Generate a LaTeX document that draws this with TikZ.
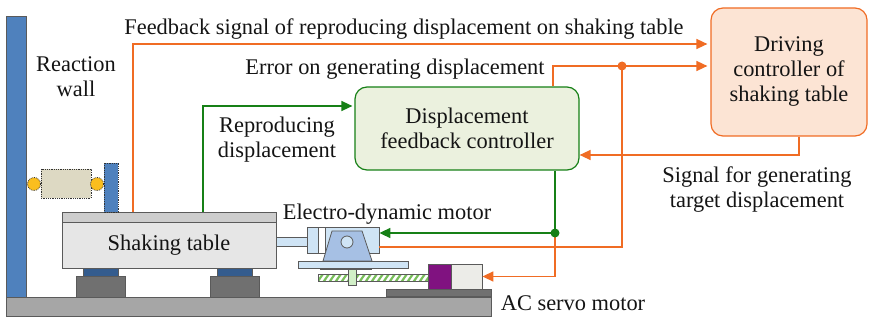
\documentclass[tikz,border=0pt]{standalone}
\usepackage{fontspec}
\setmainfont{Liberation Serif}
\newfontfamily\labelfont{Liberation Serif}
\usepackage{tikz}
\usetikzlibrary{arrows,arrows.meta,shapes}

\definecolor{sigorange}{RGB}{240,108,36}
\definecolor{siggreen}{RGB}{22,128,22}
\definecolor{greenfill}{RGB}{235,241,222}
\definecolor{orangefill}{RGB}{252,228,212}
\definecolor{wallblue}{RGB}{79,129,189}
\definecolor{footblue}{RGB}{52,92,142}
\definecolor{partgray}{RGB}{90,90,90}
\definecolor{tablegray}{RGB}{230,230,230}
\definecolor{topgray}{RGB}{205,205,205}
\definecolor{groundgray}{RGB}{166,166,166}
\definecolor{blockgray}{RGB}{112,112,112}
\definecolor{beige}{RGB}{221,217,195}
\definecolor{springyellow}{RGB}{250,190,30}
\definecolor{lightblue}{RGB}{207,228,245}
\definecolor{trapblue}{RGB}{166,192,228}
\definecolor{screwgreen}{RGB}{120,190,90}
\definecolor{nutgreen}{RGB}{210,240,200}
\definecolor{servogray}{RGB}{236,236,232}
\definecolor{servopurple}{RGB}{128,18,128}

\begin{document}
\begin{tikzpicture}[x=1pt,y=-1pt,>={Triangle[length=11pt,width=10pt]},semithick]
  \tikzstyle{every node}=[font=\labelfont\fontsize{22.4}{25}\selectfont,text=black!92]
  \tikzstyle{ctrl}=[rounded corners=12pt,line width=1.2pt,align=center,inner sep=0pt]
  \tikzstyle{orsig}=[draw=sigorange,line width=1.5pt]
  \tikzstyle{grsig}=[draw=siggreen,line width=1.5pt]
  \tikzstyle{part}=[draw=partgray,line width=0.8pt]
  \tikzstyle{box}=[part,inner sep=0pt,minimum width=0pt]
  \tikzstyle{dotbox}=[draw=black!80,densely dotted,line width=0.8pt]

  \useasboundingbox (0,0) rectangle (869,320);

  % wall and floor
  \draw[part,fill=wallblue] (6,16) rectangle (26,297);
  \draw[part,fill=groundgray] (6,297) rectangle (491,316);
  \draw[part,fill=blockgray] (386,289) rectangle (491,296);

  % specimen fixed between wall and table
  \draw[dotbox,fill=beige] (41,169) rectangle (91,198);
  \draw[dotbox,fill=springyellow] (34,184) circle (6.5);
  \draw[dotbox,fill=springyellow] (97,184) circle (6.5);

  % feet under the table
  \draw[part,fill=footblue] (83,268) rectangle (118,276);
  \draw[part,fill=blockgray] (76,276) rectangle (125,297);
  \draw[part,fill=footblue] (217,268) rectangle (252,276);
  \draw[part,fill=blockgray] (210,276) rectangle (259,297);

  % shaking table
  \node[box,fill=tablegray,minimum width=214,minimum height=46] (table) at (169,245) {Shaking table};
  \node[box,fill=topgray,minimum width=214,minimum height=10] (plate) at (169,217) {};
  \draw[dotbox,fill=wallblue] (104,163) rectangle (118,212);

  % electro-dynamic motor
  \draw[part,fill=lightblue] (276,237) rectangle (307,246);
  \node[box,fill=lightblue,minimum width=72,minimum height=26] (motor) at (343,240) {};
  \draw[part,fill=white] (318,227) rectangle (325,253);
  \draw[part,fill=trapblue] (332,231) -- (362,231) -- (372,261) -- (323,261) -- cycle;
  \draw[part,fill=lightblue] (347,242) circle (6);
  \draw[part,fill=lightblue] (298,261) rectangle (408,268);
  \fill[partgray] (320,268) rectangle (372,270);

  % ball screw and servo motor
  \begin{scope}
    \clip (318,274) rectangle (428,281);
    \fill[white] (318,274) rectangle (428,281);
    \foreach \x in {310,316,...,430}
      \draw[screwgreen,line width=2.2pt] (\x,284) -- (\x+9,271);
  \end{scope}
  \draw[part] (318,274) rectangle (428,281);
  \draw[part,fill=nutgreen] (348,269) rectangle (356,285);
  \draw[part,fill=servopurple] (428,264) rectangle (451,289);
  \node[box,fill=servogray,minimum width=31,minimum height=25] (servo) at (466.5,276.5) {};

  % controllers
  \node[ctrl,draw=siggreen,fill=greenfill,minimum width=224,minimum height=83] (dfc) at (467,128.5) {Displacement\\feedback controller};
  \node[ctrl,draw=sigorange,fill=orangefill,minimum width=156,minimum height=128] (dcs) at (789,72) {Driving\\controller of\\shaking table};

  \coordinate (fbfoot) at (133,212);
  \coordinate (rdfoot) at (203,212);
  \coordinate (errtap) at (622,66);
  \coordinate (gtap) at (555,233);

  % signal lines
  \draw[orsig,->,shorten >=3pt] (fbfoot) |- ([yshift=28pt]dcs.west);
  \draw[orsig,->,shorten >=3pt] ([xshift=86pt]dfc.north) |- ([yshift=6pt]dcs.west);
  \draw[orsig] (errtap) |- ([yshift=-7pt]motor.east);
  \fill[sigorange] (errtap) circle (4.5);
  \draw[orsig,->] ([xshift=10pt]dcs.south) |- ([yshift=-26.5pt]dfc.east);
  \draw[grsig,->,shorten >=2pt] (rdfoot) |- ([yshift=22.5pt]dfc.west);
  \draw[grsig] ([xshift=88pt]dfc.south) -- (gtap);
  \draw[grsig,->] (gtap) -- (gtap -| motor.east);
  \draw[orsig,->] (gtap) |- (servo.east);
  \fill[siggreen] (gtap) circle (4.5);

  % labels
  \node (fblab) at (404,29) {Feedback signal of reproducing displacement on shaking table};
  \node (errlab) at (395,69) {Error on generating displacement};
  \node[align=center] (rdlab) at (277,140) {Reproducing\\displacement};
  \node[align=center] (wlab) at (76,77) {Reaction\\wall};
  \node[align=center] (sglab) at (757,190) {Signal for generating\\target displacement};
  \node (edlab) at (387,214) {Electro-dynamic motor};
  \node (aclab) at (573,303) {AC servo motor};
\end{tikzpicture}
\end{document}
